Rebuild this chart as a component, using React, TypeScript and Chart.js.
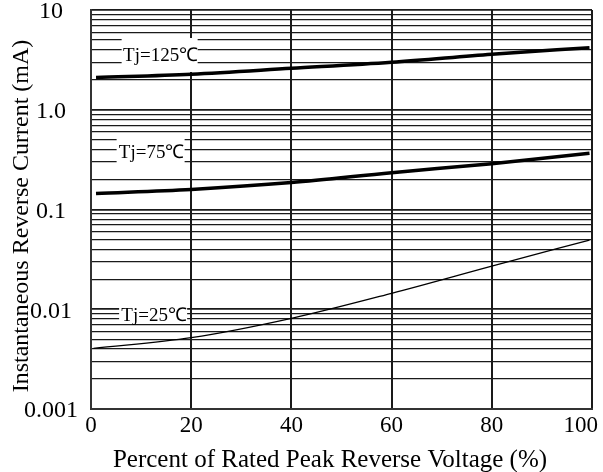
import React, { useEffect, useRef } from 'react';
import { Chart, registerables } from 'chart.js';

Chart.register(...registerables);

// ---- data ----
const xTicks = [0, 20, 40, 60, 80, 100];
const yDecades = [0.001, 0.01, 0.1, 1, 10];
const yDecadeLabels = ['0.001', '0.01', '0.1', '1.0', '10'];
const yMinorMultipliers = [1, 2, 3, 4, 5, 6, 7, 8, 9];

const seriesNames = ['Tj=125\u2103', 'Tj=75\u2103', 'Tj=25\u2103'];

const x125 = [1, 20, 40, 60, 80, 99.5];
const tj125 = [2.1, 2.27, 2.6, 2.99, 3.6, 4.19];

const x75 = [1, 20, 40, 60, 80, 99.5];
const tj75 = [0.145, 0.159, 0.186, 0.234, 0.288, 0.366];

const x25 = [0.5, 20, 40, 60, 80, 99.5];
const tj25 = [0.00406, 0.00519, 0.00811, 0.01445, 0.0271, 0.0494];

const xTitle = 'Percent of Rated Peak Reverse Voltage (%)';
const yTitle = 'Instantaneous Reverse Current (mA)';

const FONT = "'Liberation Serif', 'Times New Roman', serif";

// label boxes: anchor in data coords
const labelBoxes = [
  { text: seriesNames[0], x: 13.7, y: 3.54, w: 76, h: 34 },
  { text: seriesNames[1], x: 11.9, y: 0.377, w: 68, h: 30 },
  { text: seriesNames[2], x: 12.4, y: 0.00876, w: 68, h: 17 },
];

const overlayPlugin = {
  id: 'overlay',
  afterDraw(chart: any) {
    const ctx = chart.ctx;
    const xs = chart.scales.x;
    const ys = chart.scales.y;
    ctx.save();
    // curve labels
    for (const b of labelBoxes) {
      const cx = xs.getPixelForValue(b.x);
      const cy = ys.getPixelForValue(b.y);
      ctx.fillStyle = '#fff';
      ctx.fillRect(cx - b.w / 2, cy - b.h / 2, b.w, b.h);
      ctx.fillStyle = '#000';
      ctx.font = `19px ${FONT}`;
      ctx.textAlign = 'center';
      ctx.textBaseline = 'middle';
      ctx.fillText(b.text, cx + 1, cy + 1);
    }
    // x tick labels
    ctx.font = `23px ${FONT}`;
    ctx.fillStyle = '#000';
    ctx.textAlign = 'center';
    ctx.textBaseline = 'middle';
    const W = chart.width;
    for (const v of xTicks) {
      let px = xs.getPixelForValue(v);
      const w = ctx.measureText(String(v)).width;
      if (px + w / 2 > W - 5) px = W - 5 - w / 2;
      ctx.fillText(String(v), px, 426);
    }
    // x title
    ctx.font = `25px ${FONT}`;
    ctx.fillText(xTitle, 330, 460);
    // y title
    ctx.translate(22, 216);
    ctx.rotate(-Math.PI / 2);
    ctx.font = `24px ${FONT}`;
    ctx.fillText(yTitle, 0, 0);
    ctx.restore();
  },
};

export default function App() {
  const ref = useRef<HTMLCanvasElement>(null);

  useEffect(() => {
    if (!ref.current) return;
    const mk = (xa: number[], ya: number[]) => xa.map((x, i) => ({ x, y: ya[i] }));
    const chart = new Chart(ref.current, {
      type: 'line',
      data: {
        datasets: [
          { label: seriesNames[0], data: mk(x125, tj125), borderColor: '#000', borderWidth: 3.5, pointRadius: 0, cubicInterpolationMode: 'monotone', fill: false },
          { label: seriesNames[1], data: mk(x75, tj75), borderColor: '#000', borderWidth: 3.5, pointRadius: 0, cubicInterpolationMode: 'monotone', fill: false },
          { label: seriesNames[2], data: mk(x25, tj25), borderColor: '#000', borderWidth: 1.3, pointRadius: 0, cubicInterpolationMode: 'monotone', fill: false },
        ],
      },
      options: {
        animation: false,
        responsive: false,
        layout: { padding: { top: 10, right: 11, left: 0, bottom: 0 } },
        plugins: { legend: { display: false }, tooltip: { enabled: false } },
        scales: {
          x: {
            type: 'linear',
            min: 0,
            max: 100,
            ticks: { stepSize: 20, display: false },
            afterBuildTicks(s: any) {
              s.ticks = xTicks.map((v) => ({ value: v }));
            },
            afterFit(s: any) {
              s.height = 63;
              s.paddingLeft = 0;
              s.paddingRight = 0;
            },
            grid: { drawTicks: false, color: '#1a1a1a', lineWidth: 2 },
            border: { color: '#333', width: 2 },
          },
          y: {
            type: 'logarithmic',
            min: 0.001,
            max: 10,
            afterBuildTicks(s: any) {
              const t: any[] = [];
              yDecades.forEach((d, i) => {
                yMinorMultipliers.forEach((m) => {
                  if (i === yDecades.length - 1 && m > 1) return;
                  t.push({ value: +(d * m).toPrecision(6), major: m === 1 });
                });
              });
              s.ticks = t;
            },
            afterFit(s: any) {
              s.width = 91;
              s.paddingTop = 0;
              s.paddingBottom = 0;
            },
            ticks: {
              autoSkip: false,
              crossAlign: 'center',
              padding: 13,
              labelOffset: 2,
              color: '#000',
              font: { family: FONT, size: 24 },
              callback(v: any) {
                const idx = yDecades.findIndex((d) => Math.abs(d - Number(v)) < d * 1e-6);
                return idx >= 0 ? yDecadeLabels[idx] : '';
              },
            },
            grid: {
              drawTicks: false,
              color: '#1a1a1a',
              lineWidth: (c: any) => (c.tick && c.tick.major ? 1.8 : 1.2),
            },
            border: { color: '#333', width: 2 },
          },
        },
      },
      plugins: [overlayPlugin],
    } as any);
    return () => chart.destroy();
  }, []);

  return (
    <canvas
      ref={ref}
      width={603}
      height={472}
      style={{ position: 'fixed', left: 0, top: 0, width: 603, height: 472, background: '#fff' }}
    />
  );
}
